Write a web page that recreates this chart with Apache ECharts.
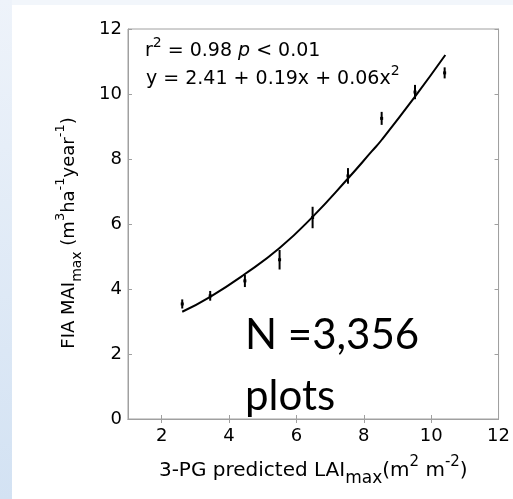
<!DOCTYPE html>
<html>
<head>
<meta charset="utf-8">
<script src="https://cdn.jsdelivr.net/npm/echarts@6/dist/echarts.min.js"></script>
<style>
html,body{margin:0;padding:0;background:#fff;}
#chart{width:513px;height:499px;}
</style>
</head>
<body>
<div id="chart"></div>
<script>
// Fitted curve
const fitX = [2.61, 3.44, 4.47, 5.50, 6.48, 7.53, 8.24, 8.54, 9.52, 10.42];
const fitY = [3.30, 3.76, 4.46, 5.26, 6.22, 7.40, 8.24, 8.60, 9.92, 11.20];
// Binned observations with error bars
const ptX = [2.61, 3.44, 4.47, 5.50, 6.48, 7.53, 8.53, 9.52, 10.40];
const ptY = [3.54, 3.79, 4.25, 4.90, 6.20, 7.48, 9.25, 10.06, 10.65];
const ptErr = [0.14, 0.15, 0.19, 0.30, 0.33, 0.24, 0.20, 0.22, 0.17];
// Axis ticks
const xTickValues = [2, 4, 6, 8, 10, 12];
const xMin = 1, xMax = 12;
const yMin = 0, yMax = 12, yStep = 2;

const FONT = 'DejaVu Sans';
const gray = '#a0a0a0';

function makeRich(main, sub, sup, lh) {
  return {
    n: {fontFamily: FONT, fontSize: main, color: '#000', lineHeight: lh},
    i: {fontFamily: FONT, fontSize: main, fontStyle: 'italic', color: '#000', lineHeight: lh},
    sup: {fontFamily: FONT, fontSize: sup, color: '#000', lineHeight: 14, verticalAlign: 'top'},
    sub: {fontFamily: FONT, fontSize: sub, color: '#000', lineHeight: 14, verticalAlign: 'bottom'}
  };
}
const richY = makeRich(18, 14, 13, 30);
const richX = makeRich(20, 17, 15, 32);
const richNote = makeRich(19, 14, 14, 30);

const chart = echarts.init(document.getElementById('chart'), null, {renderer: 'canvas'});

const option = {
  animation: false,
  backgroundColor: '#ffffff',
  grid: {left: 128, right: 13, top: 29, bottom: 80, show: true, borderColor: gray, borderWidth: 1, backgroundColor: '#fff'},
  xAxis: [{
    type: 'value', min: xMin, max: xMax, position: 'bottom',
    axisLine: {show: true, lineStyle: {color: gray, width: 1}},
    axisTick: {show: true, inside: true, length: 4, customValues: xTickValues, lineStyle: {color: gray}},
    axisLabel: {customValues: xTickValues, color: '#000', fontFamily: FONT, fontSize: 18, margin: 8},
    splitLine: {show: false},
    name: '{n|3-PG predicted LAI}{sub|max}{n|(m}{sup|2}{n| m}{sup|-2}{n|)}',
    nameLocation: 'middle', nameGap: 36,
    nameTextStyle: {rich: richX}
  }, {
    type: 'value', min: xMin, max: xMax, position: 'top',
    axisLine: {show: true, lineStyle: {color: gray, width: 1}},
    axisTick: {show: true, inside: true, length: 4, customValues: xTickValues.slice(0, 5), lineStyle: {color: gray}},
    axisLabel: {show: false}, splitLine: {show: false}
  }],
  yAxis: [{
    type: 'value', min: yMin, max: yMax, interval: yStep, position: 'left',
    axisLine: {show: true, lineStyle: {color: gray, width: 1}},
    axisTick: {show: true, inside: true, length: 4, lineStyle: {color: gray}},
    axisLabel: {color: '#000', fontFamily: FONT, fontSize: 18, margin: 6},
    splitLine: {show: false},
    name: '{n|FIA MAI}{sub|max}{n| (m}{sup|3}{n|ha}{sup|-1}{n|year}{sup|-1}{n|)}',
    nameLocation: 'middle', nameGap: 44,
    nameTextStyle: {rich: richY, padding: [0, 18, 0, 0]}
  }, {
    type: 'value', min: yMin, max: yMax, interval: yStep, position: 'right',
    axisLine: {show: true, lineStyle: {color: gray, width: 1}},
    axisTick: {show: true, inside: true, length: 4, lineStyle: {color: gray}},
    axisLabel: {show: false}, splitLine: {show: false}
  }],
  graphic: [
    {type: 'rect', silent: true, shape: {x: 0, y: 0, width: 513, height: 5}, style: {fill: '#f2f6fb'}},
    {type: 'rect', silent: true, shape: {x: 0, y: 0, width: 12, height: 499},
      style: {fill: new echarts.graphic.LinearGradient(0, 0, 0, 1, [
        {offset: 0, color: '#eef3fa'}, {offset: 1, color: '#d3e2f3'}])}},
    {type: 'text', left: 145, top: 36, silent: true,
      style: {text: '{n|r}{sup|2}{n| = 0.98 }{i|p}{n| < 0.01}', rich: richNote}},
    {type: 'text', left: 146, top: 64.5, silent: true,
      style: {text: '{n|y = 2.41 + 0.19x + 0.06x}{sup|2}', rich: richNote}},
    {type: 'text', x: 245, y: 335, silent: true,
      style: {text: 'N =3,356', font: '42px Lato', fill: '#000', verticalAlign: 'middle', align: 'left'}},
    {type: 'text', x: 245, y: 396, silent: true,
      style: {text: 'plots', font: '42px Lato', fill: '#000', verticalAlign: 'middle', align: 'left'}}
  ],
  series: [{
    type: 'line',
    data: fitX.map((x, i) => [x, fitY[i]]),
    smooth: 0.5,
    symbol: 'none',
    lineStyle: {color: '#000', width: 2},
    z: 3
  }, {
    type: 'custom',
    data: ptX.map((x, i) => [x, ptY[i], ptErr[i]]),
    renderItem: function (params, api) {
      const x = api.value(0), y = api.value(1), e = api.value(2);
      const lo = api.coord([x, y - e]);
      const hi = api.coord([x, y + e]);
      const c = api.coord([x, y]);
      return {
        type: 'group',
        children: [
          {type: 'line', shape: {x1: lo[0], y1: lo[1], x2: hi[0], y2: hi[1]}, style: {stroke: '#000', lineWidth: 2}},
          {type: 'rect', shape: {x: c[0] - 1.5, y: c[1] - 1.5, width: 3, height: 3}, style: {fill: '#000'}}
        ]
      };
    },
    z: 4
  }]
};
chart.setOption(option);
</script>
</body>
</html>
